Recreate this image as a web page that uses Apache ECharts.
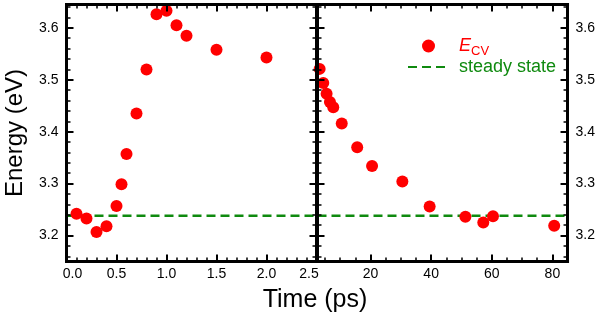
<!DOCTYPE html>
<html>
<head>
<meta charset="utf-8">
<script src="https://cdn.jsdelivr.net/npm/echarts@6/dist/echarts.min.js"></script>
<style>
html,body{margin:0;padding:0;background:#fff;}
#c{width:598px;height:316px;}
</style>
</head>
<body>
<div id="c"></div>
<script>
// ---- data ----
const tEarly = [0.1, 0.2, 0.3, 0.4, 0.5, 0.55, 0.6, 0.7, 0.8, 0.9, 1.0, 1.1, 1.2, 1.5, 2.0];
const eEarly = [3.242, 3.233, 3.207, 3.218, 3.257, 3.299, 3.357, 3.435, 3.520, 3.626, 3.633, 3.605, 3.585, 3.558, 3.543];
const tLate = [3.2, 4.4, 5.5, 6.6, 7.7, 10.5, 15.6, 20.5, 30.5, 39.5, 51.3, 57.2, 60.4, 80.6];
const eLate = [3.521, 3.494, 3.473, 3.457, 3.447, 3.416, 3.370, 3.334, 3.304, 3.256, 3.236, 3.225, 3.237, 3.219];
const steadyState = 3.238;
const leftRange = [0, 2.5];
const rightRange = [2.5, 85];
const energyRange = [3.15, 3.645];
const seriesNames = ['Ecv', 'steady state'];
const axisTitles = ['Energy (eV)', 'Time (ps)'];

const RED = '#ff0000';
const GREEN = '#0f8a0f';
const FONT = "'Liberation Sans', Arial, sans-serif";

const chart = echarts.init(document.getElementById('c'), null, {renderer: 'canvas'});

function axisBase(showLabels) {
  return {
    type: 'value',
    z: 5,
    splitLine: {show: false},
    axisLine: {show: true, onZero: false, lineStyle: {color: '#000', width: 3, cap: 'square'}},
    axisTick: {show: true, inside: true, length: 7, lineStyle: {color: '#000', width: 2}},
    minorTick: {show: true, splitNumber: 5, length: 4, lineStyle: {color: '#000', width: 1.5}},
    axisLabel: {show: showLabels, color: '#000', fontSize: 14, fontFamily: FONT, margin: 7}
  };
}

const xAxes = [
  Object.assign(axisBase(true), {
    gridIndex: 0, position: 'bottom', min: leftRange[0], max: leftRange[1], interval: 0.5,
    axisLabel: {show: true, color: '#000', fontSize: 14, fontFamily: FONT, margin: 6,
      formatter: function (v) {
        if (v === leftRange[0]) return '{l|' + v.toFixed(1) + '}';
        if (v === leftRange[1]) return '{r|' + v.toFixed(1) + '}';
        return v.toFixed(1);
      },
      rich: {
        l: {fontSize: 14, fontFamily: FONT, color: '#000', padding: [0, 0, 0, 12]},
        r: {fontSize: 14, fontFamily: FONT, color: '#000', padding: [0, 15, 0, 0]}
      }
    }
  }),
  Object.assign(axisBase(false), {gridIndex: 0, position: 'top', min: leftRange[0], max: leftRange[1], interval: 0.5}),
  Object.assign(axisBase(true), {
    gridIndex: 1, position: 'bottom', min: rightRange[0], max: rightRange[1], splitNumber: 4,
    minorTick: {show: true, splitNumber: 4, length: 4, lineStyle: {color: '#000', width: 1.5}},
    axisLabel: {show: true, color: '#000', fontSize: 14, fontFamily: FONT, margin: 6, showMinLabel: false, showMaxLabel: false}
  }),
  Object.assign(axisBase(false), {
    gridIndex: 1, position: 'top', min: rightRange[0], max: rightRange[1], splitNumber: 4,
    minorTick: {show: true, splitNumber: 4, length: 4, lineStyle: {color: '#000', width: 1.5}}
  })
];

function yAx(grid, pos, labels) {
  const a = Object.assign(axisBase(labels), {
    gridIndex: grid, position: pos, min: energyRange[0], max: energyRange[1], splitNumber: 5
  });
  a.axisLabel = {show: labels, color: '#000', fontSize: 14, fontFamily: FONT, margin: 8,
    showMinLabel: false, showMaxLabel: false, formatter: v => v.toFixed(1)};
  return a;
}
const yAxes = [yAx(0, 'left', true), yAx(0, 'right', false), yAx(1, 'left', false), yAx(1, 'right', true)];
yAxes[0].name = axisTitles[0];
yAxes[0].nameLocation = 'middle';
yAxes[0].nameGap = 39;
yAxes[0].nameTextStyle = {fontSize: 24, fontFamily: FONT, color: '#000'};

const early = tEarly.map((t, i) => [t, eEarly[i]]);
const late = tLate.map((t, i) => [t, eLate[i]]);

const option = {
  animation: false,
  backgroundColor: '#fff',
  title: {
    text: axisTitles[1], left: 315, top: 288, textAlign: 'center', padding: 0,
    textStyle: {fontSize: 25, fontWeight: 'normal', fontFamily: FONT, color: '#000'}
  },
  grid: [
    {left: 66.5, top: 4.5, width: 250, height: 257},
    {left: 317.5, top: 4.5, width: 251, height: 257}
  ],
  xAxis: xAxes,
  yAxis: yAxes,
  legend: [
    {
      data: [seriesNames[0]], left: 422, top: 37, padding: 0, itemWidth: 41, itemHeight: 13,
      selectedMode: false,
      itemStyle: {opacity: 1},
      formatter: () => '{e|E}{s|CV}',
      textStyle: {
        color: RED, fontFamily: FONT,
        rich: {
          e: {fontSize: 18, fontStyle: 'italic', color: RED, fontFamily: FONT, padding: [0, 0, 0, 5]},
          s: {fontSize: 13, color: RED, fontFamily: FONT, padding: [10, 0, 0, 0]}
        }
      }
    },
    {
      data: [seriesNames[1]], left: 407, top: 58, padding: 0, itemWidth: 41, itemHeight: 14,
      selectedMode: false,
      itemStyle: {color: 'rgba(0,0,0,0)', borderWidth: 0, opacity: 0},
      formatter: n => '{t|' + n + '}',
      textStyle: {
        color: GREEN, fontFamily: FONT,
        rich: {t: {fontSize: 18, color: GREEN, fontFamily: FONT, padding: [0, 0, 0, 5]}}
      }
    }
  ],
  series: [
    {
      name: seriesNames[1], type: 'line', xAxisIndex: 0, yAxisIndex: 0, symbol: 'none', z: 1,
      data: [[leftRange[0], steadyState], [leftRange[1], steadyState]],
      lineStyle: {color: GREEN, width: 2.5, type: [9, 5]}, itemStyle: {color: GREEN}
    },
    {
      name: seriesNames[1], type: 'line', xAxisIndex: 2, yAxisIndex: 2, symbol: 'none', z: 1,
      data: [[rightRange[0], steadyState], [rightRange[1], steadyState]],
      lineStyle: {color: GREEN, width: 2.5, type: [9, 5]}, itemStyle: {color: GREEN}
    },
    {
      name: seriesNames[0], type: 'scatter', xAxisIndex: 0, yAxisIndex: 0, symbol: 'circle', symbolSize: 12,
      data: early, itemStyle: {color: RED, opacity: 1}, clip: false
    },
    {
      name: seriesNames[0], type: 'scatter', xAxisIndex: 2, yAxisIndex: 2, symbol: 'circle', symbolSize: 12,
      data: late, itemStyle: {color: RED, opacity: 1}, clip: false
    }
  ]
};
chart.setOption(option);
</script>
</body>
</html>
